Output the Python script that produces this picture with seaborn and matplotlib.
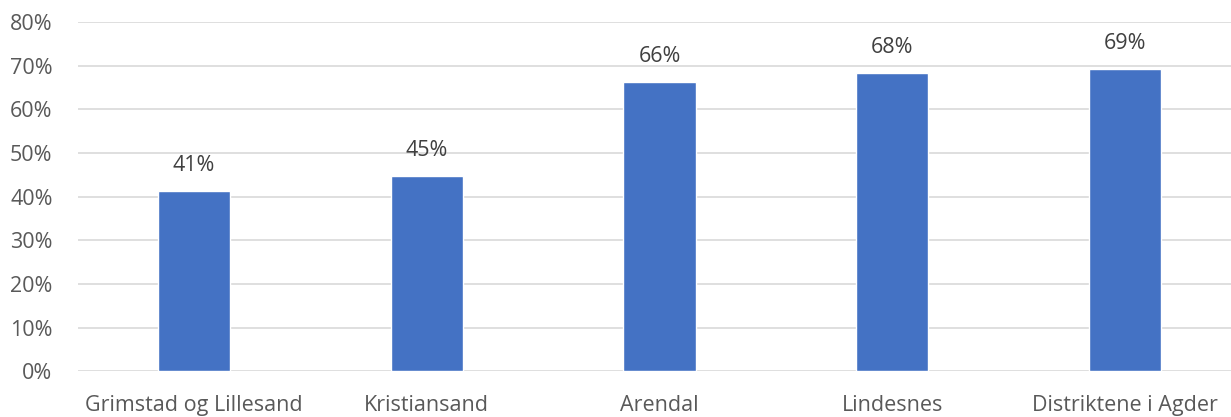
import matplotlib
matplotlib.use("Agg")
import matplotlib.pyplot as plt
import seaborn as sns
import pandas as pd

regions = ["Grimstad og Lillesand", "Kristiansand", "Arendal", "Lindesnes", "Distriktene i Agder"]
shares = [0.413, 0.447, 0.662, 0.683, 0.692]
y_ticks = [0.0, 0.1, 0.2, 0.3, 0.4, 0.5, 0.6, 0.7, 0.8]

sns.set_theme(style="white")
plt.rcParams["font.family"] = ["Open Sans", "DejaVu Sans"]

df = pd.DataFrame({"region": regions, "share": shares})

fig = plt.figure(figsize=(12.31, 4.17), dpi=100)
ax = fig.add_axes([0.063, 0.110, 0.9456, 0.837])

sns.barplot(data=df, x="region", y="share", color="#4472C4", width=0.31,
            saturation=1, ax=ax, zorder=3)

ax.set_ylim(0, 0.8)
ax.set_yticks(y_ticks)
ax.set_yticklabels([f"{t:.0%}" for t in y_ticks])
ax.yaxis.grid(True, color="#d9d9d9", linewidth=1.2, zorder=0)
ax.set_axisbelow(True)
for s in ax.spines.values():
    s.set_visible(False)
ax.set_xlabel("")
ax.set_ylabel("")
ax.tick_params(axis="both", length=0, labelsize=15.5, colors="#595959")
ax.tick_params(axis="x", pad=17)
ax.tick_params(axis="y", pad=18)
ax.set_xlim(-0.5, len(regions) - 0.5)

for i, v in enumerate(shares):
    ax.annotate(f"{v:.0%}", (i, v), xytext=(0, 11), textcoords="offset points",
                ha="center", va="bottom", fontsize=15.5, color="#404040")

fig.savefig("out.png", dpi=100)
